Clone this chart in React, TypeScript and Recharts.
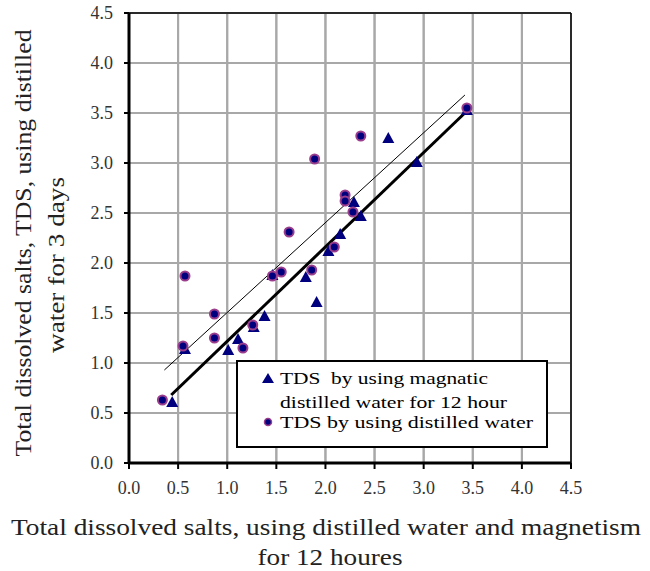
import React from 'react'
import {
  ScatterChart,
  Scatter,
  XAxis,
  YAxis,
  CartesianGrid,
  ReferenceLine,
  Label,
} from 'recharts'

// magnetised distilled water, 12 h (x) vs distilled water, 3 days (y)
const magX = [0.44, 0.57, 1.01, 1.11, 1.27, 1.38, 1.46, 1.8, 1.91, 2.03, 2.15, 2.29, 2.36, 2.64, 2.93, 3.44]
const magY = [0.61, 1.14, 1.13, 1.24, 1.36, 1.47, 1.88, 1.86, 1.61, 2.12, 2.29, 2.61, 2.47, 3.25, 3.01, 3.53]

// plain distilled water
const distX = [0.34, 0.55, 0.57, 0.87, 0.87, 1.16, 1.26, 1.46, 1.55, 1.63, 1.86, 1.89, 2.09, 2.2, 2.2, 2.28, 2.36, 3.44]
const distY = [0.63, 1.17, 1.87, 1.49, 1.25, 1.15, 1.38, 1.87, 1.91, 2.31, 1.93, 3.04, 2.16, 2.68, 2.62, 2.51, 3.27, 3.55]

// trend line end points
const trendMag = [
  { x: 0.43, y: 0.68 },
  { x: 3.44, y: 3.52 },
]
const trendDist = [
  { x: 0.36, y: 0.93 },
  { x: 3.42, y: 3.68 },
]

const ticks = [0, 0.5, 1, 1.5, 2, 2.5, 3, 3.5, 4, 4.5]
const MAX = 4.5

const magData = magX.map((x, i) => ({ x, y: magY[i] }))
const distData = distX.map((x, i) => ({ x, y: distY[i] }))

const NAVY = '#00007f'
const PURPLE = '#9a3d8c'
const GRID = '#a8a8a8'
const FONT = "'Liberation Serif', 'Times New Roman', serif"

const Triangle = (props: any) => {
  const { cx, cy } = props
  if (cx == null || cy == null) return null
  return <polygon points={`${cx},${cy - 6} ${cx + 6},${cy + 5} ${cx - 6},${cy + 5}`} fill={NAVY} />
}

const Dot = (props: any) => {
  const { cx, cy } = props
  if (cx == null || cy == null) return null
  return <circle cx={cx} cy={cy} r={4.5} fill={NAVY} stroke={PURPLE} strokeWidth={2} />
}

// legend box drawn on top of the plot
const LegendBox = () => (
  <svg width={313} height={89} style={{ position: 'absolute', left: 236, top: 360 }}>
    <rect x={1} y={1} width={310} height={86} fill="#fff" stroke="#000" strokeWidth={2} />
    <polygon points="32,13 38,23 26,23" fill={NAVY} />
    <circle cx={32} cy={62} r={3.5} fill={NAVY} stroke={PURPLE} strokeWidth={1.5} />
    <g fontFamily={FONT} fontSize={17} fill="#000">
      <text x={44} y={24} textLength={208} lengthAdjust="spacingAndGlyphs" xmlSpace="preserve">
        TDS  by using magnatic
      </text>
      <text x={44} y={48} textLength={227} lengthAdjust="spacingAndGlyphs">
        distilled water for 12 hour
      </text>
      <text x={44} y={68} textLength={253} lengthAdjust="spacingAndGlyphs">
        TDS by using distilled water
      </text>
    </g>
  </svg>
)

const tickStyle = { fontFamily: FONT, fontSize: 18, fill: '#333' }

export default function App() {
  return (
    <div style={{ position: 'absolute', left: 0, top: 0, width: 650, height: 571, background: '#fff' }}>
      <ScatterChart width={650} height={571} margin={{ top: 13, right: 79, bottom: 78, left: 69 }}>
        <CartesianGrid stroke={GRID} strokeWidth={2} />
        <XAxis
          type="number"
          dataKey="x"
          domain={[0, MAX]}
          ticks={ticks}
          height={30}
          tickFormatter={(v: number) => v.toFixed(1)}
          tick={tickStyle}
          tickSize={6}
          tickMargin={12}
          axisLine={{ stroke: '#000', strokeWidth: 3 }}
          tickLine={{ stroke: '#000', strokeWidth: 2 }}
          allowDataOverflow
        >
          <Label
            content={() => (
              <g fontFamily={FONT} fontSize={24} fill="#222" textAnchor="middle">
                <text x={326} y={535} textLength={630} lengthAdjust="spacingAndGlyphs">
                  Total dissolved salts, using distilled water and magnetism
                </text>
                <text x={330} y={565} textLength={145} lengthAdjust="spacingAndGlyphs">
                  for 12 houres
                </text>
              </g>
            )}
          />
        </XAxis>
        <YAxis
          type="number"
          dataKey="y"
          domain={[0, MAX]}
          ticks={ticks}
          width={60}
          tickFormatter={(v: number) => v.toFixed(1)}
          tick={tickStyle}
          tickSize={5}
          tickMargin={11}
          axisLine={{ stroke: '#000', strokeWidth: 3 }}
          tickLine={{ stroke: '#000', strokeWidth: 2 }}
          allowDataOverflow
        >
          <Label
            content={() => (
              <g fontFamily={FONT} fontSize={24} fill="#222" textAnchor="middle">
                <text x={31} y={243} transform="rotate(-90 31 243)" textLength={427} lengthAdjust="spacingAndGlyphs">
                  Total dissolved salts, TDS, using distilled
                </text>
                <text x={64} y={265} transform="rotate(-90 64 265)" textLength={176} lengthAdjust="spacingAndGlyphs">
                  water for 3 days
                </text>
              </g>
            )}
          />
        </YAxis>
        {ticks.slice(1, -1).map((t) => (
          <ReferenceLine key={`v${t}`} segment={[{ x: t, y: 0 }, { x: t, y: MAX }]} stroke={GRID} strokeWidth={2} />
        ))}
        {ticks.slice(1, -1).map((t) => (
          <ReferenceLine key={`h${t}`} segment={[{ x: 0, y: t }, { x: MAX, y: t }]} stroke={GRID} strokeWidth={2} />
        ))}
        <ReferenceLine y={MAX} stroke="#000" strokeWidth={1.5} />
        <ReferenceLine x={MAX} stroke="#000" strokeWidth={1.5} />
        <Scatter name="mag" data={magData} shape={Triangle} isAnimationActive={false} />
        <Scatter name="dist" data={distData} shape={Dot} isAnimationActive={false} />
        <ReferenceLine segment={trendDist} stroke="#000" strokeWidth={1} />
        <ReferenceLine segment={trendMag} stroke="#000" strokeWidth={3} />
      </ScatterChart>
      <LegendBox />
    </div>
  )
}
